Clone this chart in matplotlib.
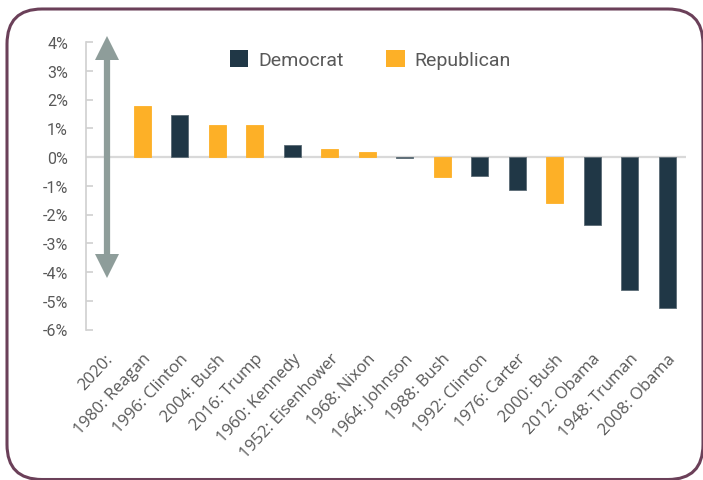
import matplotlib
matplotlib.use("Agg")
import matplotlib.pyplot as plt
from matplotlib.patches import FancyBboxPatch, Patch
from matplotlib.ticker import FuncFormatter

# Election years ranked by stock-market change, coloured by winning party
labels = ["2020:", "1980: Reagan", "1996: Clinton", "2004: Bush", "2016: Trump",
          "1960: Kennedy", "1952: Eisenhower", "1968: Nixon", "1964: Johnson",
          "1988: Bush", "1992: Clinton", "1976: Carter", "2000: Bush",
          "2012: Obama", "1948: Truman", "2008: Obama"]
values = [0.0, 1.77, 1.46, 1.11, 1.11, 0.43, 0.28, 0.17, -0.05,
          -0.68, -0.67, -1.15, -1.59, -2.37, -4.61, -5.26]
party = ["", "R", "D", "R", "R", "D", "R", "R", "D",
         "R", "D", "D", "R", "D", "D", "D"]

DEM = "#203746"
REP = "#FDB027"
TEXT = "#595959"
ARROW = "#8E9D9A"

fig = plt.figure(figsize=(7.03, 4.81), dpi=100)
ax = fig.add_axes([86 / 703, 1 - 330.5 / 481, 600 / 703, 287.5 / 481])

xs = list(range(len(labels)))
for x, v, p in zip(xs, values, party):
    if p == "":
        continue
    color = DEM if p == "D" else REP
    edge = "#5b6b75" if p == "D" else REP
    ax.bar(x, v, width=0.45, color=color, edgecolor=edge, linewidth=0.6, zorder=3)

ax.axhline(0, color="#d9d9d9", lw=1.6, zorder=2)

# double-headed arrow in the first slot: shaft plus two triangular heads
ax_x = 0.047
ax.plot([ax_x, ax_x], [-3.8, 3.8], color=ARROW, lw=4.5,
        solid_capstyle="butt", zorder=4)
ax.plot([ax_x], [3.8], marker="^", ms=17, color=ARROW, mew=0, zorder=4,
        clip_on=False)
ax.plot([ax_x], [-3.78], marker="v", ms=17, color=ARROW, mew=0, zorder=4,
        clip_on=False)

ax.set_xlim(-0.5, 15.5)
ax.set_ylim(-6, 4)
ax.set_yticks(range(-6, 5))
ax.yaxis.set_major_formatter(FuncFormatter(lambda v, _: f"{int(v)}%"))
for s in ["top", "right", "bottom"]:
    ax.spines[s].set_visible(False)
ax.spines["left"].set_color("#d0d0d0")
ax.spines["left"].set_linewidth(1.2)
ax.tick_params(axis="y", direction="in", length=5, width=1.2, color="#d0d0d0",
               pad=13, labelsize=11.5, labelcolor=TEXT)
for t in ax.get_yticklabels():
    t.set_fontfamily("Roboto")

ax.set_xticks(xs)
ax.set_xticklabels(labels, rotation=47, ha="right", va="top",
                   rotation_mode="anchor", fontsize=12, color=TEXT,
                   fontfamily="Open Sans")
ax.tick_params(axis="x", length=0, pad=15)

handles = [Patch(facecolor=DEM, label="Democrat"),
           Patch(facecolor=REP, label="Republican")]
leg = fig.legend(handles=handles, loc="upper left",
                 bbox_to_anchor=(230 / 703, 1 - 51 / 481), ncol=2, frameon=False,
                 handlelength=0.95, handleheight=0.95, handletextpad=0.5,
                 columnspacing=2.2, borderpad=0, borderaxespad=0,
                 prop={"family": "Roboto", "size": 14})
for t in leg.get_texts():
    t.set_color(TEXT)

# rounded frame around the whole chart
frame = FancyBboxPatch((0.07 + 0.35, 0.005 + 0.35), 6.96 - 0.7, 4.705 - 0.7,
                       boxstyle="round,pad=0.35", transform=fig.dpi_scale_trans,
                       facecolor="none", edgecolor="#6B4059", lw=2.2,
                       clip_on=False)
fig.patches.append(frame)

fig.savefig("out.png", dpi=100)
